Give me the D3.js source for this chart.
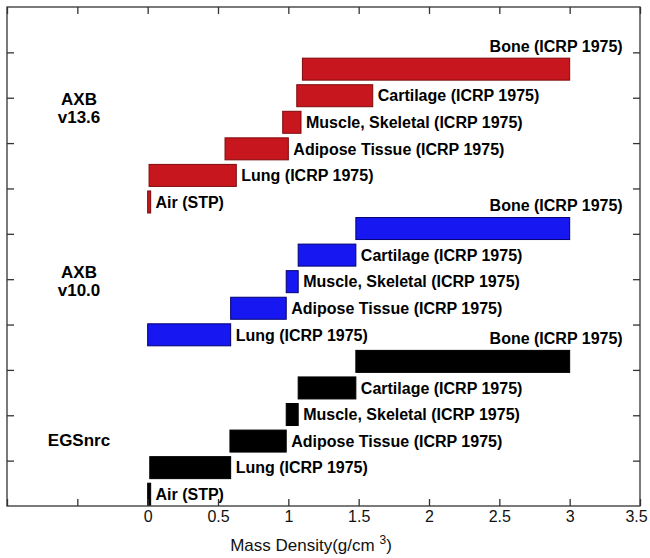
<!DOCTYPE html>
<html>
<head>
<meta charset="utf-8">
<script src="https://cdn.jsdelivr.net/npm/d3@7"></script>
<style>
  body { margin: 0; background: #fff; }
  text { font-family: "Liberation Sans", Arial, sans-serif; }
</style>
</head>
<body>
<div id="chart"></div>
<script>
// densities (g/cm3), rows listed top to bottom inside each group
const groups = ["AXB v13.6", "AXB v10.0", "EGSnrc"];
const materials = ["Bone", "Cartilage", "Muscle, Skeletal", "Adipose Tissue", "Lung", "Air"];
const sources = ["(ICRP 1975)", "(ICRP 1975)", "(ICRP 1975)", "(ICRP 1975)", "(ICRP 1975)", "(STP)"];

const axb136Low  = [1.10, 1.06, 0.96, 0.55, 0.01, 0.00];
const axb136High = [3.00, 1.60, 1.09, 1.00, 0.63, 0.02];
const axb100Low  = [1.48, 1.07, 0.985, 0.59, 0.00];
const axb100High = [3.00, 1.48, 1.07, 0.985, 0.59];
const egsLow     = [1.48, 1.07, 0.985, 0.585, 0.015, 0.00];
const egsHigh    = [3.00, 1.48, 1.07, 0.985, 0.59, 0.02];

const xTicks = [-1, -0.5, 0, 0.5, 1, 1.5, 2, 2.5, 3, 3.5];
const yTicks = [1, 2, 3, 4, 5, 6, 7, 8, 9, 10];

const lows = [axb136Low, axb100Low, egsLow];
const highs = [axb136High, axb100High, egsHigh];
const colors = {"AXB v13.6": "#c8161e", "AXB v10.0": "#1717f2", "EGSnrc": "#000000"};
const strokes = {"AXB v13.6": "#7d0a0a", "AXB v10.0": "#00006e", "EGSnrc": "#000000"};

const rows = [];
groups.forEach((g, gi) => {
    lows[gi].forEach((lo, i) => {
        rows.push({group: g, material: materials[i], source: sources[i], lo: lo, hi: highs[gi][i], key: g + "|" + materials[i]});
    });
});

const width = 650, height = 558;
const svg = d3.select("#chart").append("svg")
    .attr("width", width).attr("height", height)
    .attr("viewBox", [0, 0, width, height]);

const x = d3.scaleLinear().domain([-1, 3.5]).range([7, 640]);
const y = d3.scaleLinear().domain([0, 11]).range([506, 7]);
const yRow = d3.scalePoint()
    .domain(rows.map(d => d.key))
    .range([y(9.63), y(0.26)]);
const barH = 22;

// bars
svg.append("g")
    .selectAll("rect")
    .data(rows)
    .join("rect")
    .attr("x", d => x(d.lo))
    .attr("y", d => yRow(d.key) - barH / 2)
    .attr("width", d => Math.max(x(d.hi) - x(d.lo), 3))
    .attr("height", barH)
    .attr("fill", d => colors[d.group])
    .attr("stroke", d => strokes[d.group])
    .attr("stroke-width", 1);

// material labels
svg.append("g")
    .selectAll("text")
    .data(rows)
    .join("text")
    .attr("x", d => d.material === "Bone" ? x(3) + 53 : x(d.hi) + 5)
    .attr("y", d => d.material === "Bone" ? yRow(d.key) - 23 : yRow(d.key))
    .attr("dy", "0.36em")
    .attr("text-anchor", d => d.material === "Bone" ? "end" : "start")
    .style("font-size", "16px")
    .style("font-weight", "bold")
    .text(d => d.material + " " + d.source);

// group labels
const groupLabelY = {"AXB v13.6": 108, "AXB v10.0": 281, "EGSnrc": 440};
groups.forEach(g => {
    const parts = g.split(" ");
    const t = svg.append("text")
        .attr("x", 79)
        .attr("y", groupLabelY[g] - (parts.length - 1) * 9)
        .attr("text-anchor", "middle")
        .style("font-size", "17px")
        .style("font-weight", "bold");
    parts.forEach((p, i) => {
        t.append("tspan").attr("x", 79).attr("dy", i === 0 ? "0.36em" : "18px").text(p);
    });
});

// axes, ticks pointing inward like a matlab box
const xAxis = d3.axisBottom(x).tickValues(xTicks).tickSizeInner(-7).tickSizeOuter(0)
    .tickPadding(5).tickFormat(d => d < 0 ? "" : d3.format("")(d));
const xGroup = svg.append("g").attr("transform", `translate(0,${y(0)})`).call(xAxis);
xGroup.selectAll("text").style("font-size", "16px").attr("fill", "#111")
    .attr("dx", d => d === 3.5 ? -4 : 0);

svg.append("g").attr("transform", `translate(0,${y(11)})`)
    .call(d3.axisTop(x).tickValues(xTicks).tickSizeInner(-7).tickSizeOuter(0).tickFormat(""));
svg.append("g").attr("transform", `translate(${x(-1)},0)`)
    .call(d3.axisLeft(y).tickValues(yTicks).tickSizeInner(-7).tickSizeOuter(0).tickFormat(""));
svg.append("g").attr("transform", `translate(${x(3.5)},0)`)
    .call(d3.axisRight(y).tickValues(yTicks).tickSizeInner(-7).tickSizeOuter(0).tickFormat(""));

svg.selectAll(".domain").remove();
svg.selectAll(".tick line").attr("stroke", "#333").attr("stroke-width", 1.3);

svg.append("rect")
    .attr("x", x(-1)).attr("y", y(11))
    .attr("width", x(3.5) - x(-1)).attr("height", y(0) - y(11))
    .attr("fill", "none").attr("stroke", "#333").attr("stroke-width", 1.3);

// x label
const xl = svg.append("text")
    .attr("x", 311).attr("y", 551)
    .attr("text-anchor", "middle")
    .style("font-size", "17px")
    .attr("fill", "#111");
xl.append("tspan").text("Mass Density(g/cm ");
xl.append("tspan").attr("dy", "-7").style("font-size", "12px").text("3");
xl.append("tspan").attr("dy", "7").text(")");
</script>
</body>
</html>
